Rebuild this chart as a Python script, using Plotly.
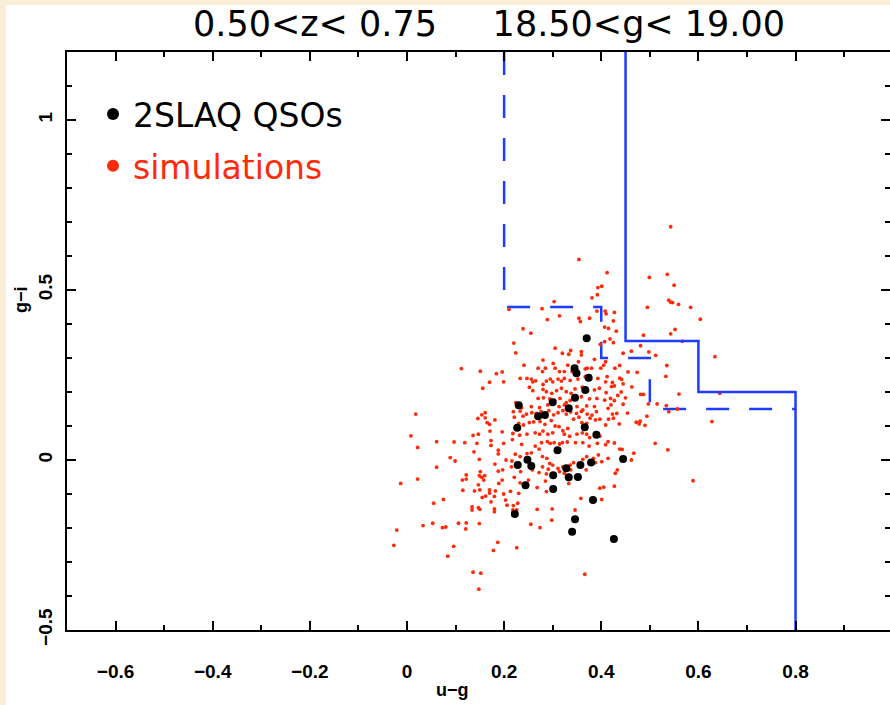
import plotly.graph_objects as go

# ---- 2SLAQ QSOs (u-g, g-i) ----
qso_ug = [0.370, 0.345, 0.349, 0.374, 0.367, 0.346, 0.230, 0.300, 0.333, 0.270,
          0.284, 0.227, 0.366, 0.390, 0.310, 0.248, 0.228, 0.256, 0.445, 0.379,
          0.357, 0.328, 0.301, 0.333, 0.352, 0.244, 0.301, 0.383, 0.222, 0.346,
          0.340, 0.426]
qso_gi = [0.358, 0.270, 0.255, 0.242, 0.206, 0.183, 0.161, 0.170, 0.152, 0.129,
          0.132, 0.095, 0.096, 0.074, 0.029, 0.001, -0.015, -0.018, 0.003, -0.007,
          -0.015, -0.024, -0.045, -0.051, -0.050, -0.074, -0.085, -0.118, -0.159, -0.174,
          -0.211, -0.232]

# ---- simulations (u-g, g-i) ----
sim_ug = [
    0.112, 0.151, 0.184, 0.170, 0.156,
    0.018, 0.161, 0.154, 0.146, 0.161, 0.181, 0.165, 0.170, 0.171, 0.008,
    0.136, 0.147, 0.022, 0.061, 0.097, 0.119, 0.144, 0.173, 0.173, 0.138,
    0.188, 0.188, 0.089, 0.099, 0.149, 0.061, 0.181, 0.151, 0.188, 0.122,
    0.122, 0.114, 0.149, 0.154, 0.160, 0.158, -0.013, 0.022, 0.189, 0.147,
    0.115, 0.139, 0.150, 0.170, 0.182, 0.170, 0.162, 0.155, 0.180, 0.075,
    0.055, 0.173, 0.134, 0.147, 0.134, 0.150, 0.180, 0.180, 0.033, 0.053,
    0.073, 0.080, 0.106, 0.122, 0.121, 0.149, -0.021, 0.187, -0.027, 0.096,
    0.178, 0.084, 0.136, 0.152, 0.148,
    0.354, 0.412, 0.401, 0.393, 0.392, 0.381, 0.303, 0.210, 0.278, 0.314,
    0.289, 0.354, 0.357, 0.376, 0.391, 0.408, 0.410, 0.239, 0.255, 0.407,
    0.415, 0.220, 0.224, 0.305, 0.320, 0.333, 0.337, 0.359, 0.359, 0.386,
    0.398, 0.407, 0.196, 0.199, 0.241, 0.280, 0.270, 0.279, 0.285, 0.301,
    0.305, 0.314, 0.324, 0.331, 0.340, 0.353, 0.367, 0.371, 0.380, 0.399,
    0.405, 0.409, 0.412,
    0.233, 0.247, 0.256, 0.259, 0.265, 0.280, 0.287, 0.295, 0.300, 0.311,
    0.318, 0.324, 0.336, 0.352, 0.367, 0.378, 0.393, 0.409, 0.252, 0.259,
    0.280, 0.287, 0.298, 0.308, 0.318, 0.328, 0.338, 0.346, 0.361, 0.372,
    0.386, 0.396, 0.410, 0.270, 0.281, 0.294, 0.304, 0.315, 0.328, 0.336,
    0.359, 0.376, 0.391, 0.407, 0.224, 0.236, 0.256, 0.273, 0.290, 0.313,
    0.324, 0.350, 0.362, 0.370, 0.386, 0.414, 0.266, 0.328, 0.390,
    0.543, 0.499, 0.536, 0.550, 0.539, 0.543, 0.547, 0.559, 0.495, 0.584,
    0.604, 0.552, 0.543, 0.487, 0.481, 0.567, 0.427, 0.425, 0.431,
    0.425, 0.418, 0.445, 0.462, 0.498, 0.512, 0.438, 0.428, 0.455, 0.474,
    0.535, 0.533, 0.438, 0.442, 0.423, 0.427, 0.421, 0.445, 0.463, 0.441,
    0.434, 0.419, 0.450, 0.427, 0.481, 0.487, 0.560, 0.634, 0.420, 0.445,
    0.497, 0.515, 0.534, 0.557, 0.539, 0.432, 0.454,
    0.423, 0.425, 0.437, 0.472, 0.478, 0.480, 0.490, 0.494, 0.427, 0.438,
    0.443, 0.467, 0.462, 0.511, 0.537, 0.433, 0.429, 0.427, 0.589,
    0.644, 0.628,
    0.219, 0.233, 0.246, 0.257, 0.276, 0.292, 0.302, 0.311, 0.321, 0.337,
    0.349, 0.359, 0.371, 0.381, 0.397, 0.415, 0.221, 0.239, 0.230, 0.240,
    0.252, 0.261, 0.274, 0.284, 0.297, 0.305, 0.313, 0.321, 0.331, 0.343,
    0.354, 0.360, 0.370, 0.377, 0.388, 0.409, 0.196, 0.218, 0.217, 0.232,
    0.247, 0.264, 0.273, 0.280, 0.290, 0.300, 0.324, 0.335, 0.350, 0.361,
    0.370, 0.376, 0.397, 0.414, 0.199, 0.236, 0.264, 0.277, 0.289, 0.295,
    0.303, 0.314, 0.320, 0.330, 0.347, 0.362, 0.375, 0.392, 0.409,
    0.204, 0.216, 0.223, 0.233, 0.247, 0.256, 0.272, 0.279, 0.288, 0.294,
    0.300, 0.311, 0.321, 0.336, 0.343, 0.362, 0.370, 0.384, 0.394, 0.401, 0.414,
    0.197, 0.215, 0.234, 0.258, 0.272, 0.279, 0.287, 0.291, 0.314, 0.324, 0.337, 0.369, 0.388,
    0.196, 0.221, 0.233, 0.250, 0.268, 0.285, 0.287, 0.333, 0.347, 0.397, 0.405,
    0.199, 0.213, 0.230, 0.203, 0.206, 0.219, 0.228, 0.218, 0.226, 0.221,
    0.268, 0.299, 0.346, 0.358, 0.401, 0.298, 0.255, 0.274, 0.226, 0.366,
]
sim_gi = [
    0.269, 0.261, 0.254, 0.229, 0.211,
    0.135, 0.139, 0.133, 0.122, 0.124, 0.118, 0.110, 0.105, 0.085, 0.071,
    0.072, 0.076, 0.037, 0.054, 0.053, 0.051, 0.049, 0.057, 0.043, 0.024,
    0.029, 0.018, 0.007, -0.003, 0.002, -0.021, -0.012, -0.034, -0.033, -0.044,
    -0.056, -0.059, -0.046, -0.051, -0.046, -0.059, -0.069, -0.056, -0.069, -0.073,
    -0.089, -0.091, -0.088, -0.088, -0.091, -0.097, -0.106, -0.110, -0.107, -0.116,
    -0.127, -0.123, -0.138, -0.140, -0.147, -0.145, -0.144, -0.152, -0.193, -0.186,
    -0.199, -0.197, -0.186, -0.185, -0.203, -0.187, -0.206, -0.242, -0.251, -0.254,
    -0.266, -0.283, -0.330, -0.333, -0.380,
    0.590, 0.551, 0.511, 0.507, 0.486, 0.477, 0.466, 0.443, 0.445, 0.424,
    0.413, 0.417, 0.407, 0.417, 0.438, 0.438, 0.430, 0.386, 0.373, 0.391,
    0.387, 0.344, 0.315, 0.329, 0.314, 0.311, 0.322, 0.319, 0.309, 0.296,
    0.340, 0.348, 0.259, 0.230, 0.279, 0.294, 0.270, 0.260, 0.270, 0.284,
    0.270, 0.260, 0.260, 0.279, 0.260, 0.289, 0.268, 0.270, 0.270, 0.270,
    0.279, 0.289, 0.245,
    0.240, 0.240, 0.238, 0.230, 0.233, 0.222, 0.232, 0.238, 0.230, 0.238,
    0.232, 0.240, 0.234, 0.238, 0.245, 0.238, 0.240, 0.230, 0.214, 0.204,
    0.208, 0.201, 0.196, 0.204, 0.211, 0.201, 0.196, 0.209, 0.214, 0.204,
    0.206, 0.211, 0.198, 0.181, 0.183, 0.180, 0.175, 0.181, 0.169, 0.175,
    0.186, 0.180, 0.181, 0.176, 0.169, 0.154, 0.157, 0.154, 0.162, 0.157,
    0.162, 0.157, 0.147, 0.159, 0.157, 0.152, 0.137, 0.135, 0.142,
    0.686, 0.537, 0.546, 0.514, 0.470, 0.464, 0.463, 0.458, 0.449, 0.449,
    0.414, 0.384, 0.371, 0.367, 0.336, 0.349, 0.434, 0.409, 0.379,
    0.345, 0.356, 0.314, 0.320, 0.318, 0.308, 0.278, 0.270, 0.259, 0.258,
    0.278, 0.246, 0.241, 0.237, 0.228, 0.218, 0.216, 0.224, 0.215, 0.200,
    0.190, 0.181, 0.183, 0.175, 0.193, 0.193, 0.194, 0.304, 0.162, 0.164,
    0.165, 0.165, 0.160, 0.150, 0.142, 0.137, 0.138,
    0.135, 0.123, 0.106, 0.111, 0.106, 0.114, 0.102, 0.129, 0.050, 0.032,
    0.031, 0.020, 0.000, 0.049, 0.030, -0.029, -0.039, -0.077, -0.061,
    0.196, 0.113,
    0.142, 0.144, 0.135, 0.139, 0.142, 0.145, 0.133, 0.139, 0.145, 0.141,
    0.137, 0.143, 0.135, 0.132, 0.120, 0.120, 0.126, 0.129, 0.108, 0.103,
    0.110, 0.112, 0.113, 0.105, 0.116, 0.100, 0.098, 0.086, 0.093, 0.120,
    0.126, 0.110, 0.108, 0.123, 0.118, 0.103, 0.083, 0.078, 0.060, 0.073,
    0.076, 0.080, 0.076, 0.085, 0.076, 0.080, 0.076, 0.070, 0.076, 0.080,
    0.076, 0.066, 0.070, 0.054, 0.049, 0.046, 0.041, 0.051, 0.054, 0.049,
    0.051, 0.047, 0.051, 0.053, 0.051, 0.051, 0.041, 0.049, 0.045,
    0.000, -0.003, 0.017, 0.010, 0.019, 0.021, 0.032, 0.010, 0.005, -0.010,
    -0.015, -0.025, -0.020, -0.015, -0.008, 0.002, 0.010, 0.005, 0.015, -0.005, 0.005,
    -0.029, -0.020, -0.034, -0.029, -0.037, -0.020, -0.041, -0.027, -0.034, -0.039, -0.029, -0.029, -0.008,
    -0.059, -0.051, -0.067, -0.059, -0.081, -0.062, -0.093, -0.069, -0.049, -0.083, -0.080,
    -0.100, -0.092, -0.098, -0.118, -0.133, -0.134, -0.127, -0.147, -0.147, -0.152,
    -0.145, -0.144, -0.147, -0.113, -0.116, -0.177, -0.189, -0.199, -0.258, -0.336,
]

# ---- colour-selection boundaries ----
cut_solid_ug = [0.45, 0.45, 0.60, 0.60, 0.80, 0.80]
cut_solid_gi = [1.20, 0.35, 0.35, 0.20, 0.20, -0.50]
cut_dash_ug = [0.20, 0.20, 0.40, 0.40, 0.50, 0.50, 0.80]
cut_dash_gi = [1.20, 0.45, 0.45, 0.30, 0.30, 0.15, 0.15]

title_text = "0.50&lt;z&lt; 0.75     18.50&lt;g&lt; 19.00"
x_title = "u−g"
y_title = "g−i"
x_range = [-0.7, 0.9945]
y_range = [-0.5, 1.2]

BLUE = "#1e3cff"
RED = "#ff2a0a"
CREAM = "#f8efd6"
FONT = "Liberation Sans, Arial, sans-serif"
BIGFONT = "DejaVu Sans, sans-serif"

fig = go.Figure()
# solid boundary is drawn against the right-hand (mirror) y axis, which shares the range
fig.add_trace(go.Scatter(x=cut_solid_ug, y=cut_solid_gi, mode="lines", yaxis="y2",
                         line=dict(color=BLUE, width=2.5), showlegend=False, hoverinfo="skip"))
fig.add_trace(go.Scatter(x=cut_dash_ug, y=cut_dash_gi, mode="lines",
                         line=dict(color=BLUE, width=2.5, dash="23px,20px"),
                         showlegend=False, hoverinfo="skip"))
fig.add_trace(go.Scatter(x=sim_ug, y=sim_gi, mode="markers",
                         name="<span style='color:%s'>simulations</span>" % RED,
                         marker=dict(color=RED, size=3.8, line=dict(width=0)),
                         legendrank=2, legendgroup="b"))
fig.add_trace(go.Scatter(x=qso_ug, y=qso_gi, mode="markers", name="2SLAQ QSOs",
                         marker=dict(color="black", size=8, line=dict(width=0)),
                         legendrank=1, legendgroup="a"))

L, R, T, B = 67, 0, 52, 75
W, H = 890, 705
pw, ph = W - L - R, H - T - B

axis_common = dict(showgrid=False, zeroline=False, ticks="inside", ticklen=9, tickwidth=1.5,
                   tickcolor="black", linecolor="black",
                   tickfont=dict(family=FONT, size=19, color="black", weight="bold"),
                   minor=dict(ticks="inside", ticklen=5, tickwidth=1.5, tickcolor="black", dtick=0.1))

fig.update_layout(
    width=W, height=H,
    margin=dict(l=L, r=R, t=T, b=B, pad=0),
    paper_bgcolor=CREAM, plot_bgcolor="white",
    font=dict(family=FONT, color="black"),
    title=dict(text=title_text, x=489 / W, xref="container", xanchor="center",
               y=1 - 24 / H, yref="container", yanchor="middle",
               font=dict(family=BIGFONT, size=35, color="black")),
    xaxis=dict(range=x_range, dtick=0.2, showline=True, mirror="ticks", linewidth=2,
               ticklabelstandoff=23, **axis_common),
    yaxis=dict(range=y_range, dtick=0.5, showline=True, mirror=False, tickangle=-90, linewidth=2,
               ticklabelstandoff=5, **axis_common),
    yaxis2=dict(range=y_range, dtick=0.5, overlaying="y", side="right", showline=False,
                showticklabels=False, **axis_common),
    legend=dict(x=(93 - L) / pw, y=1 - (86 - T) / ph, xanchor="left", yanchor="top",
                bgcolor="rgba(0,0,0,0)", font=dict(family=BIGFONT, size=33, color="black"),
                itemsizing="constant", tracegroupgap=6, traceorder="grouped"),
    annotations=[
        dict(text=x_title, xref="paper", yref="paper", x=(452 - L) / pw, y=-(690 - T - ph) / ph,
             xanchor="center", yanchor="middle", showarrow=False,
             font=dict(family=FONT, size=18, color="black", weight="bold")),
        dict(text=y_title, xref="paper", yref="paper", x=(21 - L) / pw, y=1 - (300 - T) / ph,
             xanchor="center", yanchor="middle", showarrow=False, textangle=-90,
             font=dict(family=FONT, size=18, color="black", weight="bold")),
    ],
    shapes=[dict(type="rect", xref="paper", yref="paper", layer="below",
                 x0=(6 - L) / pw, x1=1.01, y0=-(B + 5) / ph, y1=1 + (T - 5) / ph,
                 fillcolor="white", line=dict(width=0))],
    showlegend=True,
)

fig.write_html("out.html")
